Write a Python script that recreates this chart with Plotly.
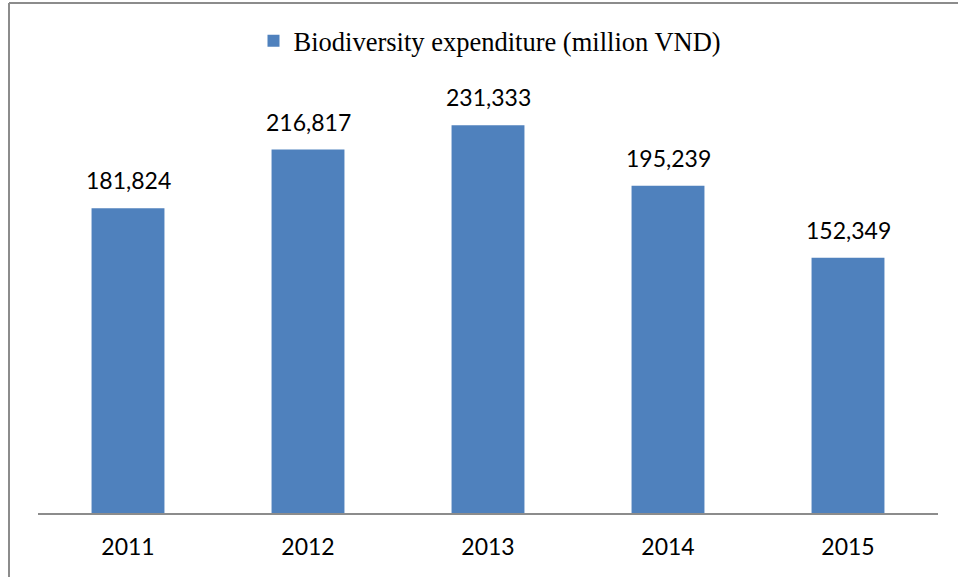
import plotly.graph_objects as go

years = ["2011", "2012", "2013", "2014", "2015"]
expenditure = [181824, 216817, 231333, 195239, 152349]
series_name = "Biodiversity expenditure (million VND)"

W, H = 958, 577
ML, MR, MT, MB = 38, 20, 94, 64
plot_w = W - ML - MR
plot_h = H - MT - MB


def px_to_paper_x(px):
    return (px - ML) / plot_w


def px_to_paper_y(py):
    return (H - MB - py) / plot_h


fig = go.Figure()
fig.add_trace(go.Bar(
    x=years, y=expenditure,
    name=series_name,
    marker=dict(color="#4F81BD", line=dict(width=0)),
    showlegend=True,
))

# value labels sit well above the bars, like the Excel original
# (x as category index: "2011" etc. would be read as an index otherwise)
for i, v in enumerate(expenditure):
    fig.add_annotation(x=i, y=v, text=f"{v:,}", showarrow=False,
                       yanchor="bottom", yshift=12,
                       font=dict(family="Lato", size=23, color="#000000"))

# outer chart frame (top and left edges visible)
border = "#8C8C8C"
fig.add_shape(type="line", xref="paper", yref="paper",
              x0=px_to_paper_x(9), x1=px_to_paper_x(W + 5),
              y0=px_to_paper_y(3), y1=px_to_paper_y(3),
              line=dict(color=border, width=2))
fig.add_shape(type="line", xref="paper", yref="paper",
              x0=px_to_paper_x(9), x1=px_to_paper_x(9),
              y0=px_to_paper_y(3), y1=px_to_paper_y(H + 5),
              line=dict(color=border, width=2))

fig.update_layout(
    width=W, height=H,
    margin=dict(l=ML, r=MR, t=MT, b=MB),
    paper_bgcolor="white", plot_bgcolor="white",
    bargap=0.595,
    showlegend=True,
    legend=dict(orientation="h", x=px_to_paper_x(490), xanchor="center",
                y=px_to_paper_y(41), yanchor="middle",
                font=dict(family="Liberation Serif", size=26.5, color="#000000"),
                bgcolor="rgba(0,0,0,0)"),
    xaxis=dict(type="category", showline=True, linecolor="#8C8C8C", linewidth=2,
               ticks="", showgrid=False, zeroline=False,
               ticklabelstandoff=12,
               tickfont=dict(family="Lato", size=23, color="#000000")),
    yaxis=dict(range=[0, 250000], visible=False, showgrid=False, zeroline=False),
)

fig.write_html("out.html", config={"displayModeBar": False},
               post_script="document.body.style.margin='0';")
